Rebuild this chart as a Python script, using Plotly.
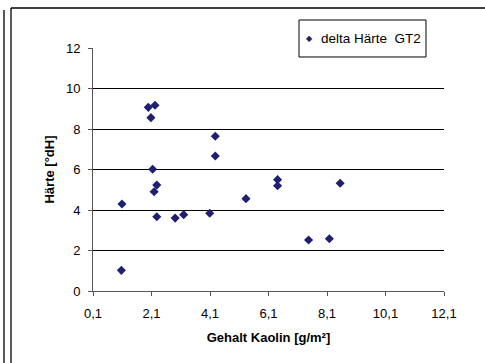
import plotly.graph_objects as go

# Kaolin content [g/m²] vs. hardness change [°dH], series GT2
kaolin = [1.99, 2.22, 2.08, 4.28, 4.28, 2.14, 2.28, 2.19, 1.09, 2.28,
          2.91, 3.20, 4.09, 1.07, 5.33, 6.41, 6.41, 8.55, 7.47, 8.18]
haerte = [9.07, 9.17, 8.56, 7.64, 6.67, 6.01, 5.23, 4.90, 4.30, 3.67,
          3.60, 3.77, 3.84, 1.02, 4.56, 5.50, 5.20, 5.32, 2.52, 2.58]

series_name = "delta Härte  GT2"
x_title = "Gehalt Kaolin [g/m²]"
y_title = "Härte [°dH]"

navy = "#202070"
font_family = "Arial, Liberation Sans, sans-serif"

fig = go.Figure()
fig.add_trace(go.Scatter(
    x=kaolin, y=haerte, mode="markers", name=series_name,
    marker=dict(symbol="diamond", size=7, color=navy, line=dict(width=0)),
    showlegend=False,
))

# chart frame lines
frame = dict(type="line", xref="paper", yref="paper", line=dict(color="black", width=1.3))
fig.add_shape(**frame, x0=-0.2536, x1=-0.2536, y0=1.156, y1=-0.32)
fig.add_shape(**frame, x0=-0.2336, x1=-0.2336, y0=1.1646, y1=-0.32)
fig.add_shape(**frame, x0=-0.2336, x1=1.12, y0=1.1646, y1=1.1646)

# legend box
fig.add_shape(type="rect", xref="paper", yref="paper",
              x0=0.5869, x1=0.9487, y0=0.963, y1=1.1152,
              line=dict(color="black", width=1), fillcolor="white", layer="above")
fig.add_annotation(xref="paper", yref="paper", x=0.6154, y=1.039,
                   text="◆", showarrow=False, xanchor="center", yanchor="middle",
                   font=dict(family="DejaVu Sans", size=8, color=navy))
fig.add_annotation(xref="paper", yref="paper", x=0.6439, y=1.039,
                   text=series_name.replace("  ", "&nbsp; "), showarrow=False,
                   xanchor="left", yanchor="middle",
                   font=dict(family=font_family, size=13.5, color="black"))

fig.update_layout(
    width=485, height=363,
    margin=dict(l=93, r=41, t=48, b=72),
    paper_bgcolor="white", plot_bgcolor="white",
    separators=",.",
    font=dict(family=font_family, size=13, color="black"),
    xaxis=dict(
        range=[0.1, 12.1], tick0=0.1, dtick=2, tickformat=".1f",
        showgrid=False, zeroline=False,
        showline=True, linecolor="#555555", linewidth=1,
        ticks="outside", ticklen=4, tickcolor="#555555",
        ticklabelstandoff=6,
        title=dict(text=f"<b>{x_title}</b>", font=dict(size=13), standoff=13),
    ),
    yaxis=dict(
        range=[0, 12], dtick=2,
        showgrid=True, gridcolor="black", gridwidth=1, zeroline=False,
        showline=True, linecolor="#555555", linewidth=1,
        ticks="outside", ticklen=4, tickcolor="#555555",
        ticklabelstandoff=5,
        title=dict(text=f"<b>{y_title}</b>", font=dict(size=13), standoff=8),
    ),
)

fig.write_html("out.html")
